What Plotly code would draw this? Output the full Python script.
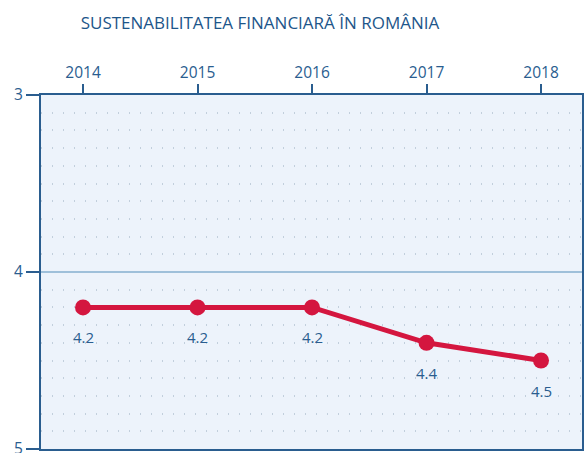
import plotly.graph_objects as go

years = [2014, 2015, 2016, 2017, 2018]
values = [4.2, 4.2, 4.2, 4.4, 4.5]
value_labels = ["4.2", "4.2", "4.2", "4.4", "4.5"]
y_ticks = [3, 4, 5]

DARK = "#2a5d8f"
W, H = 584, 453

fig = go.Figure()
fig.add_trace(go.Scatter(
    x=years, y=values, mode="lines+markers",
    line=dict(color="#d4163f", width=5),
    marker=dict(color="#d4163f", size=16),
    hoverinfo="skip", showlegend=False,
))
for x, y, t in zip(years, values, value_labels):
    fig.add_annotation(x=x, y=y, text=t, showarrow=False, yshift=-30,
                       font=dict(family="Open Sans", size=15, color=DARK))

fig.update_layout(
    width=W, height=H,
    margin=dict(l=41, r=2, t=95, b=4, autoexpand=False),
    paper_bgcolor="white",
    plot_bgcolor="#edf3fb",
    title=dict(text="SUSTENABILITATEA FINANCIARĂ ÎN ROMÂNIA",
               x=260/W, xanchor="center", y=1-23/H, yanchor="middle",
               font=dict(family="Open Sans", size=17, color="#1d568a")),
)
fig.update_xaxes(
    side="top", range=[2013.633, 2018.358], tickvals=years,
    ticktext=[str(y) for y in years],
    showgrid=False, zeroline=False,
    showline=True, linecolor=DARK, linewidth=2, mirror=True,
    ticks="outside", ticklen=9, tickwidth=2, tickcolor=DARK,
    tickfont=dict(family="Open Sans", size=15.5, color=DARK),
    automargin=False,
)
fig.update_yaxes(
    range=[5, 3], tickvals=y_ticks,
    showline=True, linecolor=DARK, linewidth=2, mirror=True,
    ticks="outside", ticklen=13, tickwidth=2, tickcolor=DARK,
    tickfont=dict(family="Open Sans", size=15.5, color=DARK),
    ticklabeloverflow="allow",
    showgrid=True, gridcolor="#9fc0da", gridwidth=2, zeroline=False,
    minor=dict(dtick=0.1, tick0=3, showgrid=True, gridcolor="#c2cfdc",
               griddash="1px,10px", gridwidth=1.5),
    automargin=False,
)
fig.write_html(
    "out.html",
    config={"displayModeBar": False},
    post_script="document.body.style.margin='0';document.body.style.overflow='hidden';",
)
